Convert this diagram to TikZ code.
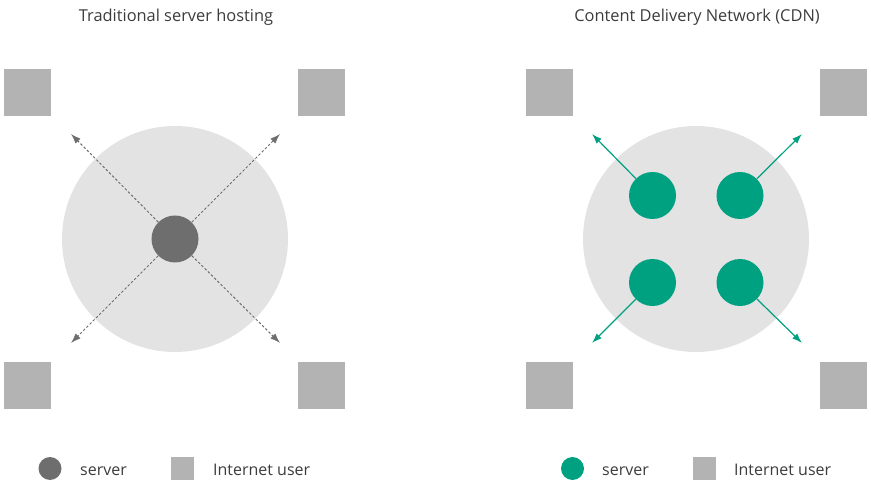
\documentclass[tikz,border=0pt]{standalone}
\usepackage{fontspec}
\setmainfont{Open Sans}
\usetikzlibrary{shapes,arrows.meta,positioning,calc}
\definecolor{cdngreen}{RGB}{0,161,128}
\definecolor{usergray}{RGB}{179,179,179}
\definecolor{zonegray}{RGB}{227,227,227}
\definecolor{servergray}{RGB}{110,110,110}
\definecolor{textgray}{RGB}{60,60,60}

\begin{document}
\begin{tikzpicture}[x=1pt,y=-1pt]
  \tikzstyle{user}=[rectangle, fill=usergray, minimum size=47pt, inner sep=0pt]
  \tikzstyle{usermark}=[user, minimum size=23pt]
  \tikzstyle{zone}=[circle, fill=zonegray, minimum size=226pt, inner sep=0pt]
  \tikzstyle{server}=[circle, fill=servergray, minimum size=47pt, inner sep=0pt]
  \tikzstyle{edge}=[circle, fill=cdngreen, minimum size=47pt, inner sep=0pt]
  \tikzstyle{title}=[font=\fontsize{16.4}{19}\selectfont, text=textgray, anchor=base]
  \tikzstyle{legend}=[font=\fontsize{16}{19}\selectfont, text=textgray, anchor=base west, inner sep=0pt]
  \tikzstyle{dotline}=[-{Latex[length=10pt,width=7pt]}, servergray, line width=1pt, dash pattern=on 2.5pt off 2pt]
  \tikzstyle{greenline}=[-{Latex[length=10pt,width=7pt]}, cdngreen, line width=1.2pt]
  \useasboundingbox (0,0) rectangle (871,481);

  % Traditional server hosting
  \node[title] (t1) at (176,22) {Traditional server hosting};
  \node[zone] (z1) at (175,239) {};
  \node[user] (u1) at (27.5,92.5) {};
  \node[user] (u2) at (321.5,92.5) {};
  \node[user] (u3) at (27.5,385.5) {};
  \node[user] (u4) at (321.5,385.5) {};
  \node[server] (srv) at (175,239) {};
  \coordinate (a1) at (71,134);
  \coordinate (a2) at (280,134);
  \coordinate (a3) at (71,343);
  \coordinate (a4) at (280,343);
  \draw[dotline] (srv) -- (a1);
  \draw[dotline] (srv) -- (a2);
  \draw[dotline] (srv) -- (a3);
  \draw[dotline] (srv) -- (a4);

  % Content Delivery Network
  \node[title] (t2) at (697,22) {Content Delivery Network (CDN)};
  \node[zone] (z2) at (696,239) {};
  \node[user] (v1) at (549.5,92.5) {};
  \node[user] (v2) at (843.5,92.5) {};
  \node[user] (v3) at (549.5,385.5) {};
  \node[user] (v4) at (843.5,385.5) {};
  \node[edge] (e1) at (652.5,195.5) {};
  \node[edge] (e2) at (740,195.5) {};
  \node[edge] (e3) at (652.5,282.5) {};
  \node[edge] (e4) at (740,282.5) {};
  \coordinate (b1) at (592,134);
  \coordinate (b2) at (802,134);
  \coordinate (b3) at (592,343);
  \coordinate (b4) at (802,343);
  \draw[greenline] (e1) -- (b1);
  \draw[greenline] (e2) -- (b2);
  \draw[greenline] (e3) -- (b3);
  \draw[greenline] (e4) -- (b4);

  % legends
  \node[server, minimum size=23pt] (ls1) at (50,468.5) {};
  \node[legend] (lt1) at (80,475) {server};
  \node[usermark] (lu1) at (182.5,468.5) {};
  \node[legend] (lt2) at (213,475) {Internet user};
  \node[edge, minimum size=23pt] (ls2) at (572.5,468.5) {};
  \node[legend] (lt3) at (602,475) {server};
  \node[usermark] (lu2) at (704.5,468.5) {};
  \node[legend] (lt4) at (734,475) {Internet user};
\end{tikzpicture}
\end{document}
